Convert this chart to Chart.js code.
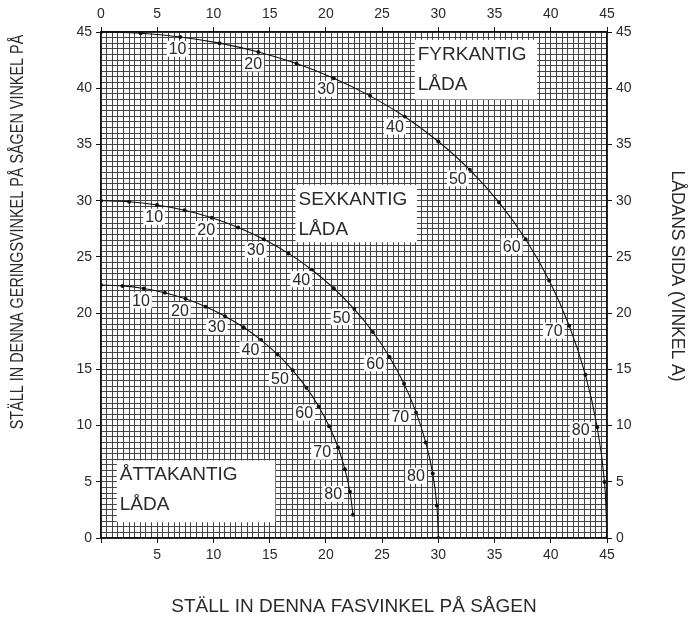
<!DOCTYPE html>
<html>
<head>
<meta charset="utf-8">
<script src="https://cdn.jsdelivr.net/npm/chart.js@4.4.0/dist/chart.umd.min.js"></script>
<style>
  html,body{margin:0;padding:0;background:#fff}
  #wrap{width:694px;height:619px}
</style>
</head>
<body>
<div id="wrap"><canvas id="c" width="694" height="619"></canvas></div>
<script>
// side angle A of the box, one dot every 5 degrees, label every 10
const sideAngles = [0,5,10,15,20,25,30,35,40,45,50,55,60,65,70,75,80,85,90];
const labelAngles = [10,20,30,40,50,60,70,80];
// values (x = bevel / fasvinkel, y = miter / geringsvinkel)
const squareBevel = [0,3.53,7.05,10.55,14.0,17.39,20.7,23.93,27.03,30.0,32.8,35.4,37.76,39.86,41.64,43.08,44.13,44.78,45];
const squareMiter = [45,44.89,44.56,44.01,43.22,42.19,40.89,39.32,37.46,35.26,32.74,29.84,26.57,22.91,18.88,14.51,9.85,4.98,0];
const hexBevel = [0,2.5,4.98,7.44,9.85,12.2,14.48,16.67,18.75,20.7,22.52,24.18,25.66,26.95,28.02,28.88,29.5,29.87,30];
const hexMiter = [30,29.91,29.62,29.15,28.48,27.62,26.57,25.31,23.86,22.21,20.36,18.32,16.1,13.71,11.17,8.5,5.73,2.88,0];
const octBevel = [0,1.91,3.81,5.68,7.52,9.31,11.03,12.68,14.24,15.7,17.05,18.27,19.36,20.29,21.08,21.69,22.14,22.41];
const octMiter = [22.5,22.42,22.19,21.81,21.27,20.57,19.73,18.74,17.6,16.33,14.91,13.37,11.7,9.93,8.06,6.12,4.11,2.07];
const axisTicks = [0,5,10,15,20,25,30,35,40,45];

const FONT = '"Liberation Sans", Arial, Helvetica, sans-serif';
const TXT = '#2a2a2a';

function pts(xs, ys){ return xs.map((x,i)=>({x:x, y:ys[i]})); }
function curve(xs, ys){
  return {
    data: pts(xs, ys), showLine:true, borderColor:'#111', borderWidth:1.1,
    tension:0.3, pointRadius:2, pointBackgroundColor:'#111', pointBorderWidth:0,
    xAxisID:'x', yAxisID:'y'
  };
}
function isMajor(v){ return Math.abs(v % 5) < 1e-6; }

const fineScale = (pos, showZero) => ({
  type:'linear', position:pos, min:0, max:45,
  ticks:{stepSize:0.5, autoSkip:false, maxRotation:0, padding:4, color:TXT,
    font:{family:FONT, size:14},
    callback:(v)=> (isMajor(v) && (showZero || v !== 0)) ? String(v) : ''},
  grid:{color:'#444', lineWidth:1, tickLength:5,
    tickColor:(c)=> (c.tick && isMajor(c.tick.value)) ? '#111' : 'rgba(0,0,0,0)'},
  border:{display:true, color:'#111', width:1.5}
});
const sideScale = (pos, axis) => ({
  type:'linear', position:pos, axis:axis, min:0, max:45,
  afterBuildTicks:(s)=>{ s.ticks = axisTicks.map(v=>({value:v})); },
  ticks:{padding:4, color:TXT, maxRotation:0, font:{family:FONT, size:14}},
  grid:{drawOnChartArea:false, tickLength:5, tickColor:'#111'},
  border:{display:true, color:'#111', width:1.5}
});

const xs = fineScale('bottom', false);
xs.afterFit = (s)=>{ s.height = 81; };
const ys = fineScale('left', true);
ys.afterFit = (s)=>{ s.width = 101; };
const x2 = sideScale('top', 'x');
x2.afterFit = (s)=>{ s.height = 32; };
const y2 = sideScale('right', 'y');
y2.afterFit = (s)=>{ s.width = 87; };

// white text boxes naming each curve (data coords: left, top, right, bottom)
const boxes = [
  {lines:['FYRKANTIG','LÅDA'], x0:27.9, y0:44.3, x1:38.8, y1:39.0},
  {lines:['SEXKANTIG','LÅDA'], x0:17.3, y0:31.4, x1:28.1, y1:26.3},
  {lines:['ÅTTAKANTIG','LÅDA'], x0:1.4, y0:6.9, x1:15.5, y1:1.4}
];

const boxPlugin = {
  id:'boxes',
  beforeDatasetsDraw(chart){
    const ctx = chart.ctx, sx = chart.scales.x, sy = chart.scales.y;
    ctx.save();
    ctx.font = '19px ' + FONT;
    ctx.textAlign = 'left'; ctx.textBaseline = 'alphabetic';
    boxes.forEach(b=>{
      const l = sx.getPixelForValue(b.x0), r = sx.getPixelForValue(b.x1);
      const t = sy.getPixelForValue(b.y0), bt = sy.getPixelForValue(b.y1);
      ctx.fillStyle = '#fff';
      ctx.fillRect(l, t, r - l, bt - t);
      ctx.fillStyle = TXT;
      b.lines.forEach((ln, k)=> ctx.fillText(ln, l + 3, t + 20 + k * 30));
    });
    ctx.restore();
  }
};

const labelPlugin = {
  id:'curveLabels',
  afterDatasetsDraw(chart){
    const ctx = chart.ctx, a = chart.chartArea;
    ctx.save();
    ctx.font = '16px ' + FONT;
    ctx.textAlign = 'center'; ctx.textBaseline = 'middle';
    chart.data.datasets.forEach((ds, di)=>{
      const meta = chart.getDatasetMeta(di);
      labelAngles.forEach(ang=>{
        const p = meta.data[sideAngles.indexOf(ang)];
        if(!p) return;
        let dx = a.left - p.x, dy = a.bottom - p.y;
        const len = Math.hypot(dx, dy) || 1;
        dx /= len; dy /= len;
        const cx = p.x + dx * 17, cy = p.y + dy * 12;
        const t = String(ang), w = ctx.measureText(t).width;
        ctx.fillStyle = '#fff';
        ctx.fillRect(cx - w/2 - 2, cy - 8, w + 4, 16);
        ctx.fillStyle = TXT;
        ctx.fillText(t, cx, cy + 1);
      });
    });
    ctx.restore();
  }
};

const titlePlugin = {
  id:'titles',
  afterDraw(chart){
    const ctx = chart.ctx, a = chart.chartArea;
    ctx.save();
    ctx.fillStyle = TXT;
    ctx.textAlign = 'center'; ctx.textBaseline = 'middle';
    ctx.font = '19px ' + FONT;
    ctx.fillText('STÄLL IN DENNA FASVINKEL PÅ SÅGEN', (a.left + a.right) / 2, 607);
    ctx.save();
    ctx.font = '18px ' + FONT;
    ctx.translate(18, 232); ctx.rotate(-Math.PI / 2);
    ctx.scale(0.8, 1);
    ctx.fillText('STÄLL IN DENNA GERINGSVINKEL PÅ SÅGEN VINKEL PÅ', 0, 0);
    ctx.restore();
    ctx.save();
    ctx.font = '17.5px ' + FONT;
    ctx.translate(677, 276); ctx.rotate(Math.PI / 2);
    ctx.fillText('LÅDANS SIDA (VINKEL A)', 0, 0);
    ctx.restore();
    ctx.restore();
  }
};

new Chart(document.getElementById('c'), {
  type:'scatter',
  data:{datasets:[
    curve(squareBevel, squareMiter),
    curve(hexBevel, hexMiter),
    curve(octBevel, octMiter)
  ]},
  options:{
    responsive:false, animation:false,
    layout:{padding:0},
    plugins:{legend:{display:false}, tooltip:{enabled:false}},
    scales:{x:xs, y:ys, x2:x2, y2:y2}
  },
  plugins:[boxPlugin, labelPlugin, titlePlugin]
});
</script>
</body>
</html>
